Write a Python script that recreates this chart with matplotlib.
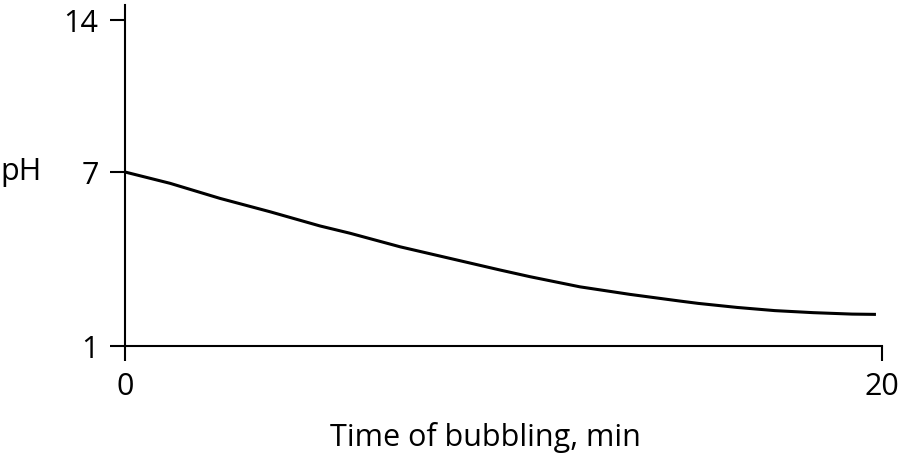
import numpy as np
import matplotlib
matplotlib.use("Agg")
import matplotlib.pyplot as plt

# values
time_min = [0, 1.19, 2.51, 3.83, 5.15, 5.94, 7.27, 8.59, 9.91, 10.70,
            12.02, 13.34, 14.66, 15.14, 16.17, 17.17, 18.18, 19.21, 19.84]
ph = [7.0, 6.61, 6.09, 5.63, 5.14, 4.89, 4.42, 4.02, 3.62, 3.39,
      3.04, 2.78, 2.55, 2.47, 2.33, 2.22, 2.15, 2.10, 2.09]

x_ticks = [0, 20]
y_ticks = [1, 7, 14]

# the pH axis is drawn schematically: 1..7 is stretched, 7..14 squeezed
scale_in = [1, 7, 14, 20]
scale_out = [0, 174, 326, 326 + 6 * 152 / 7]


def fwd(v):
    return np.interp(v, scale_in, scale_out)


def inv(v):
    return np.interp(v, scale_out, scale_in)


plt.rcParams['font.family'] = ['Open Sans', 'DejaVu Sans']

fig = plt.figure(figsize=(9, 4.55), dpi=100)
ax = fig.add_axes([125 / 900, 109 / 455, 757 / 900, 341 / 455])

ax.plot(time_min, ph, color='black', lw=2.2, solid_capstyle='butt')

ax.set_yscale('function', functions=(fwd, inv))
ax.set_xlim(0, 20)
ax.set_ylim(1, inv(341))
ax.set_xticks(x_ticks)
ax.set_yticks(y_ticks)
ax.set_xticklabels([str(t) for t in x_ticks])
ax.set_yticklabels([str(t) for t in y_ticks])
ax.minorticks_off()

for s in ['top', 'right']:
    ax.spines[s].set_visible(False)
for s in ['left', 'bottom']:
    ax.spines[s].set_linewidth(1.5)

ax.tick_params(direction='out', length=11, width=1.5, pad=8,
               labelsize=22, colors='black')

ax.set_xlabel('Time of bubbling, min', fontsize=22, labelpad=14)
ax.xaxis.label.set_x(0.476)
ax.set_ylabel('pH', fontsize=22, rotation=0, va='center', ha='center')
ax.yaxis.set_label_coords(-0.137, 0.51)

fig.savefig('out.png', dpi=100)
